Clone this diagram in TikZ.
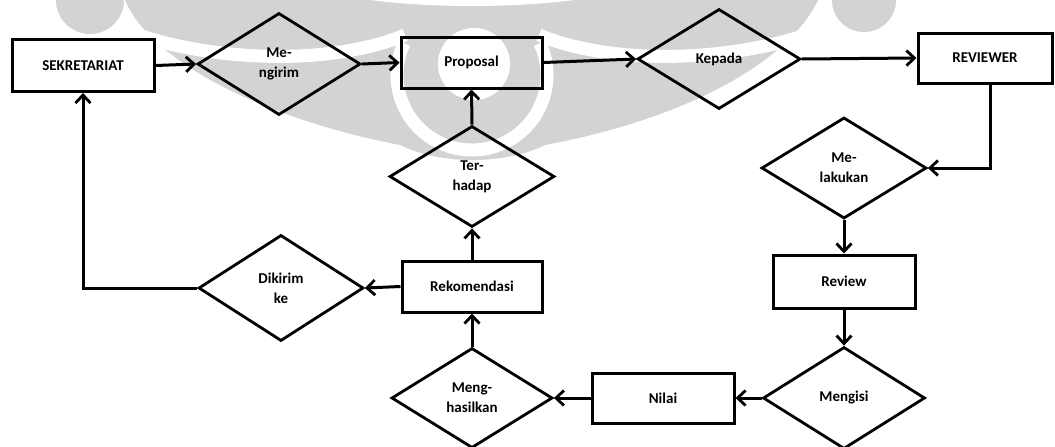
\documentclass[tikz,border=0pt]{standalone}
\usepackage{fontspec}
\setmainfont{Carlito}
\usetikzlibrary{shapes.geometric,arrows.meta}
\definecolor{wmark}{RGB}{211,211,211}
\tikzset{
  box/.style={draw=black, line width=3pt, rectangle, inner sep=0pt,
    font=\bfseries\fontsize{15}{20}\selectfont, align=center},
  rel/.style={draw=black, line width=2.8pt, diamond, aspect=1.6, inner sep=0pt,
    font=\bfseries\fontsize{15}{20}\selectfont, align=center},
  arr/.style={line width=3pt,
    -{Straight Barb[length=8pt,width=15pt,line width=2.8pt]}},
}
\begin{document}
\begin{tikzpicture}[x=1pt,y=-1pt]
\useasboundingbox (0,0) rectangle (1055,447);

% faint emblem in the background
\begin{scope}
  \clip (0,0) rectangle (1055,447);
  \fill[wmark] (125,0) .. controls (150,60) and (260,118) .. (400,145)
    .. controls (440,165) and (505,165) .. (545,145)
    .. controls (690,118) and (790,60) .. (818,0) -- cycle;
  \fill[wmark] (90,0) circle[radius=34];
  \fill[wmark] (864,0) circle[radius=32];
  \fill[white] (472,-30) ellipse[x radius=185, y radius=36];
  \draw[white, line width=13pt] (120,28) .. controls (190,58) and (320,70) .. (405,35);
  \draw[white, line width=13pt] (824,28) .. controls (754,58) and (624,70) .. (539,35);
  \draw[white, line width=13pt] (472,75) ++(205:75) arc[start angle=205, end angle=-25, radius=75];
  \fill[white] (474,64) circle[radius=36];
\end{scope}

% entities
\node[box, minimum width=142pt, minimum height=52pt] (sek) at (83,65.5) {SEKRETARIAT};
\node[box, minimum width=141pt, minimum height=51pt] (proposal) at (471.5,62.5) {Proposal};
\node[box, minimum width=134pt, minimum height=50pt] (reviewer) at (985,58) {REVIEWER};
\node[box, minimum width=142pt, minimum height=53pt] (review) at (844,281.5) {Review};
\node[box, minimum width=142pt, minimum height=50pt] (nilai) at (663,398) {Nilai};
\node[box, minimum width=140pt, minimum height=51pt] (rekom) at (472,286.5) {Rekomendasi};

% relations
\node[rel, minimum width=163pt, minimum height=102pt] (mengirim) at (279,64) {Me-\\ngirim};
\node[rel, minimum width=163pt, minimum height=100pt] (kepada) at (719,59) {Kepada};
\node[rel, minimum width=165pt, minimum height=101pt] (melakukan) at (844,168) {Me-\\lakukan};
\node[rel, minimum width=165pt, minimum height=101pt] (terhadap) at (472,176.5) {Ter-\\hadap};
\node[rel, minimum width=165pt, minimum height=106pt] (dikirim) at (281,288) {Dikirim\\ke};
\node[rel, minimum width=161pt, minimum height=100pt] (menghasilkan) at (472,398) {Meng-\\hasilkan};
\node[rel, minimum width=162pt, minimum height=102pt] (mengisi) at (844,398) {Mengisi};

% flow
\draw[arr] (sek.east) -- (mengirim.west);
\draw[arr] (mengirim.east) -- (proposal.west);
\draw[arr] (proposal.east) -- (kepada.west);
\draw[arr] (kepada.east) -- (reviewer.west);
\draw[arr] ([xshift=5pt]reviewer.south) |- (melakukan.east);
\draw[arr] (melakukan.south) -- (review.north);
\draw[arr] (review.south) -- (mengisi.north);
\draw[arr] (mengisi.west) -- (nilai.east);
\draw[arr] (nilai.west) -- (menghasilkan.east);
\draw[arr] (menghasilkan.north) -- (rekom.south);
\draw[arr] (rekom.north) -- (terhadap.south);
\draw[arr] (terhadap.north) -- (proposal.south);
\draw[arr] (rekom.west) -- (dikirim.east);
\draw[arr] (dikirim.west) -| (sek.south);
\end{tikzpicture}
\end{document}
